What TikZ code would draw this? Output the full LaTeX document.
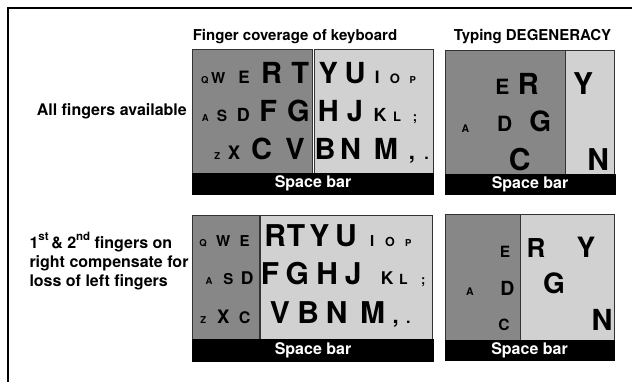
\documentclass[tikz,border=0pt]{standalone}
\usepackage{fontspec}
\setmainfont{TeX Gyre Heros}
\definecolor{dkgray}{gray}{0.53}
\definecolor{ltgray}{gray}{0.82}
\definecolor{edge}{gray}{0.2}
\tikzset{
  key/.style={anchor=base, inner sep=0pt, font=\bfseries\fontsize{#1}{#1}\selectfont},
  darkzone/.style={fill=dkgray, draw=edge, line width=0.8pt},
  lightzone/.style={fill=ltgray, draw=edge, line width=0.8pt},
  spacebar/.style={fill=black, draw=black, line width=0.8pt},
  spacelabel/.style={text=white, inner sep=0pt, font=\bfseries\fontsize{16}{16}\selectfont},
  heading/.style={anchor=base, inner sep=0pt, font=\bfseries\fontsize{15}{15}\selectfont},
  rowlabel/.style={inner sep=0pt, font=\bfseries\fontsize{16}{19}\selectfont},
}
\begin{document}
\begin{tikzpicture}[x=1pt,y=-1pt]
\useasboundingbox (0,0) rectangle (632,382);
% open frame: left and top edges only
\draw[line width=2pt] (8,382) -- (8,8) -- (632,8);

% headings
\node[heading] (h1) at (295,41) {Finger coverage of keyboard};
\node[heading] (h2) at (532.5,41) {Typing DEGENERACY};

% row labels
\node[rowlabel, anchor=base east] (r1) at (187,115.7) {All fingers available};
\node[rowlabel, anchor=base west, align=left] (r2) at (29.3,286.5)
  {1\raisebox{0.5em}{\fontsize{11.5}{11.5}\selectfont st}\,\& 2\raisebox{0.5em}{\fontsize{11.5}{11.5}\selectfont nd} fingers on\\right compensate for\\loss of left fingers};

% ---- keyboard, all fingers ----
\draw[darkzone] (192.5,49.5) rectangle (312.7,173.3);
\draw[lightzone] (313.9,49.5) rectangle (433,173.3);
\draw[spacebar] (192.5,173.3) rectangle (433.5,194);
\node[spacelabel] (sb1) at (313,183.8) {Space bar};
\foreach \x/\y/\s/\t [count=\i] in {
  204.7/83.5/9.5/Q, 218.3/83.5/15/W, 244/83.5/17/E, 271.7/83.5/29/R, 300.3/83.5/29/T,
  328.3/83.5/29/Y, 355/83.5/29/U, 377.3/83.5/17/I, 395/83.5/13/O, 412.7/83.5/9.5/P,
  205.3/122/9.5/A, 222/122/15.5/S, 243.3/122/18/D, 268.3/122/29/F, 298.3/122/29/G,
  328.3/122/29/H, 355/122/29/J, 380/122/18/K, 397/122/13/L, 415/122/13/;,
  217.3/159.5/9.5/Z, 234/159.5/18.5/X, 261.7/159.5/29/C, 295/159.5/29/V,
  325/159.5/29/B, 350.7/159.5/29/N, 386/159.5/29/M, 412/159.5/22/{,}, 426.7/159.5/16/.}
  \node[key=\s] (ka\i) at (\x,\y) {\t};

% ---- degeneracy, all fingers ----
\draw[darkzone] (445.5,50.5) rectangle (565.7,174);
\draw[lightzone] (565.7,50.5) rectangle (614.7,174);
\draw[spacebar] (445.5,174) rectangle (615,194);
\node[spacelabel] (sb2) at (530,184) {Space bar};
\foreach \x/\y/\s/\t [count=\i] in {
  502.3/94.5/21/E, 528.3/94.5/29/R, 583/94.5/30/Y,
  465.3/133/10.5/A, 504.7/131.5/21/D, 540.3/131.5/28/G,
  519.7/170.5/30/C, 598.3/170.5/30/N}
  \node[key=\s] (kb\i) at (\x,\y) {\t};

% ---- keyboard, right hand compensating ----
\draw[darkzone] (192.5,215.7) rectangle (259.5,339);
\draw[lightzone] (260.8,215.7) rectangle (432.7,339);
\draw[spacebar] (192.5,339) rectangle (433.3,361);
\node[spacelabel] (sb3) at (313,350) {Space bar};
\foreach \x/\y/\s/\t [count=\i] in {
  203/246.3/9.5/Q, 223.3/246.3/15/W, 244.7/246.3/15/E, 275.3/246.3/30/R, 296/246.3/30/T,
  319.3/246.3/30/Y, 346/246.3/30/U, 372.3/246.3/15/I, 390/246.3/12.5/O, 408.3/246.3/9.5/P,
  209/284.7/9.5/A, 228.3/284.7/15/S, 247.3/284.7/17.5/D, 270/284.7/30/F, 297.3/284.7/30/G,
  327.3/284.7/30/H, 353.3/284.7/30/J, 387.3/284.7/17.5/K, 403.3/284.7/14/L, 423.3/284.7/13/;,
  203.3/323/9.5/Z, 223.3/323/18.5/X, 244.7/323/16/C, 280/323/30/V,
  308.3/323/30/B, 336.7/323/30/N, 372.7/323/30/M, 395.7/323/22/{,}, 408.3/323/16/.}
  \node[key=\s] (kc\i) at (\x,\y) {\t};

% ---- degeneracy, right hand compensating ----
\draw[darkzone] (445.5,214) rectangle (520.7,340);
\draw[lightzone] (520.7,214) rectangle (614,340);
\draw[spacebar] (445.5,340) rectangle (614.5,360);
\node[spacelabel] (sb4) at (529.5,350) {Space bar};
\foreach \x/\y/\s/\t [count=\i] in {
  505/257.3/15.5/E, 536/257.3/26/R, 586/257.3/28/Y,
  470/295.7/10.5/A, 507.3/295.7/19.5/D, 554/294/28/G,
  504/330.7/15.5/C, 602/330.7/29/N}
  \node[key=\s] (kd\i) at (\x,\y) {\t};
\end{tikzpicture}
\end{document}
